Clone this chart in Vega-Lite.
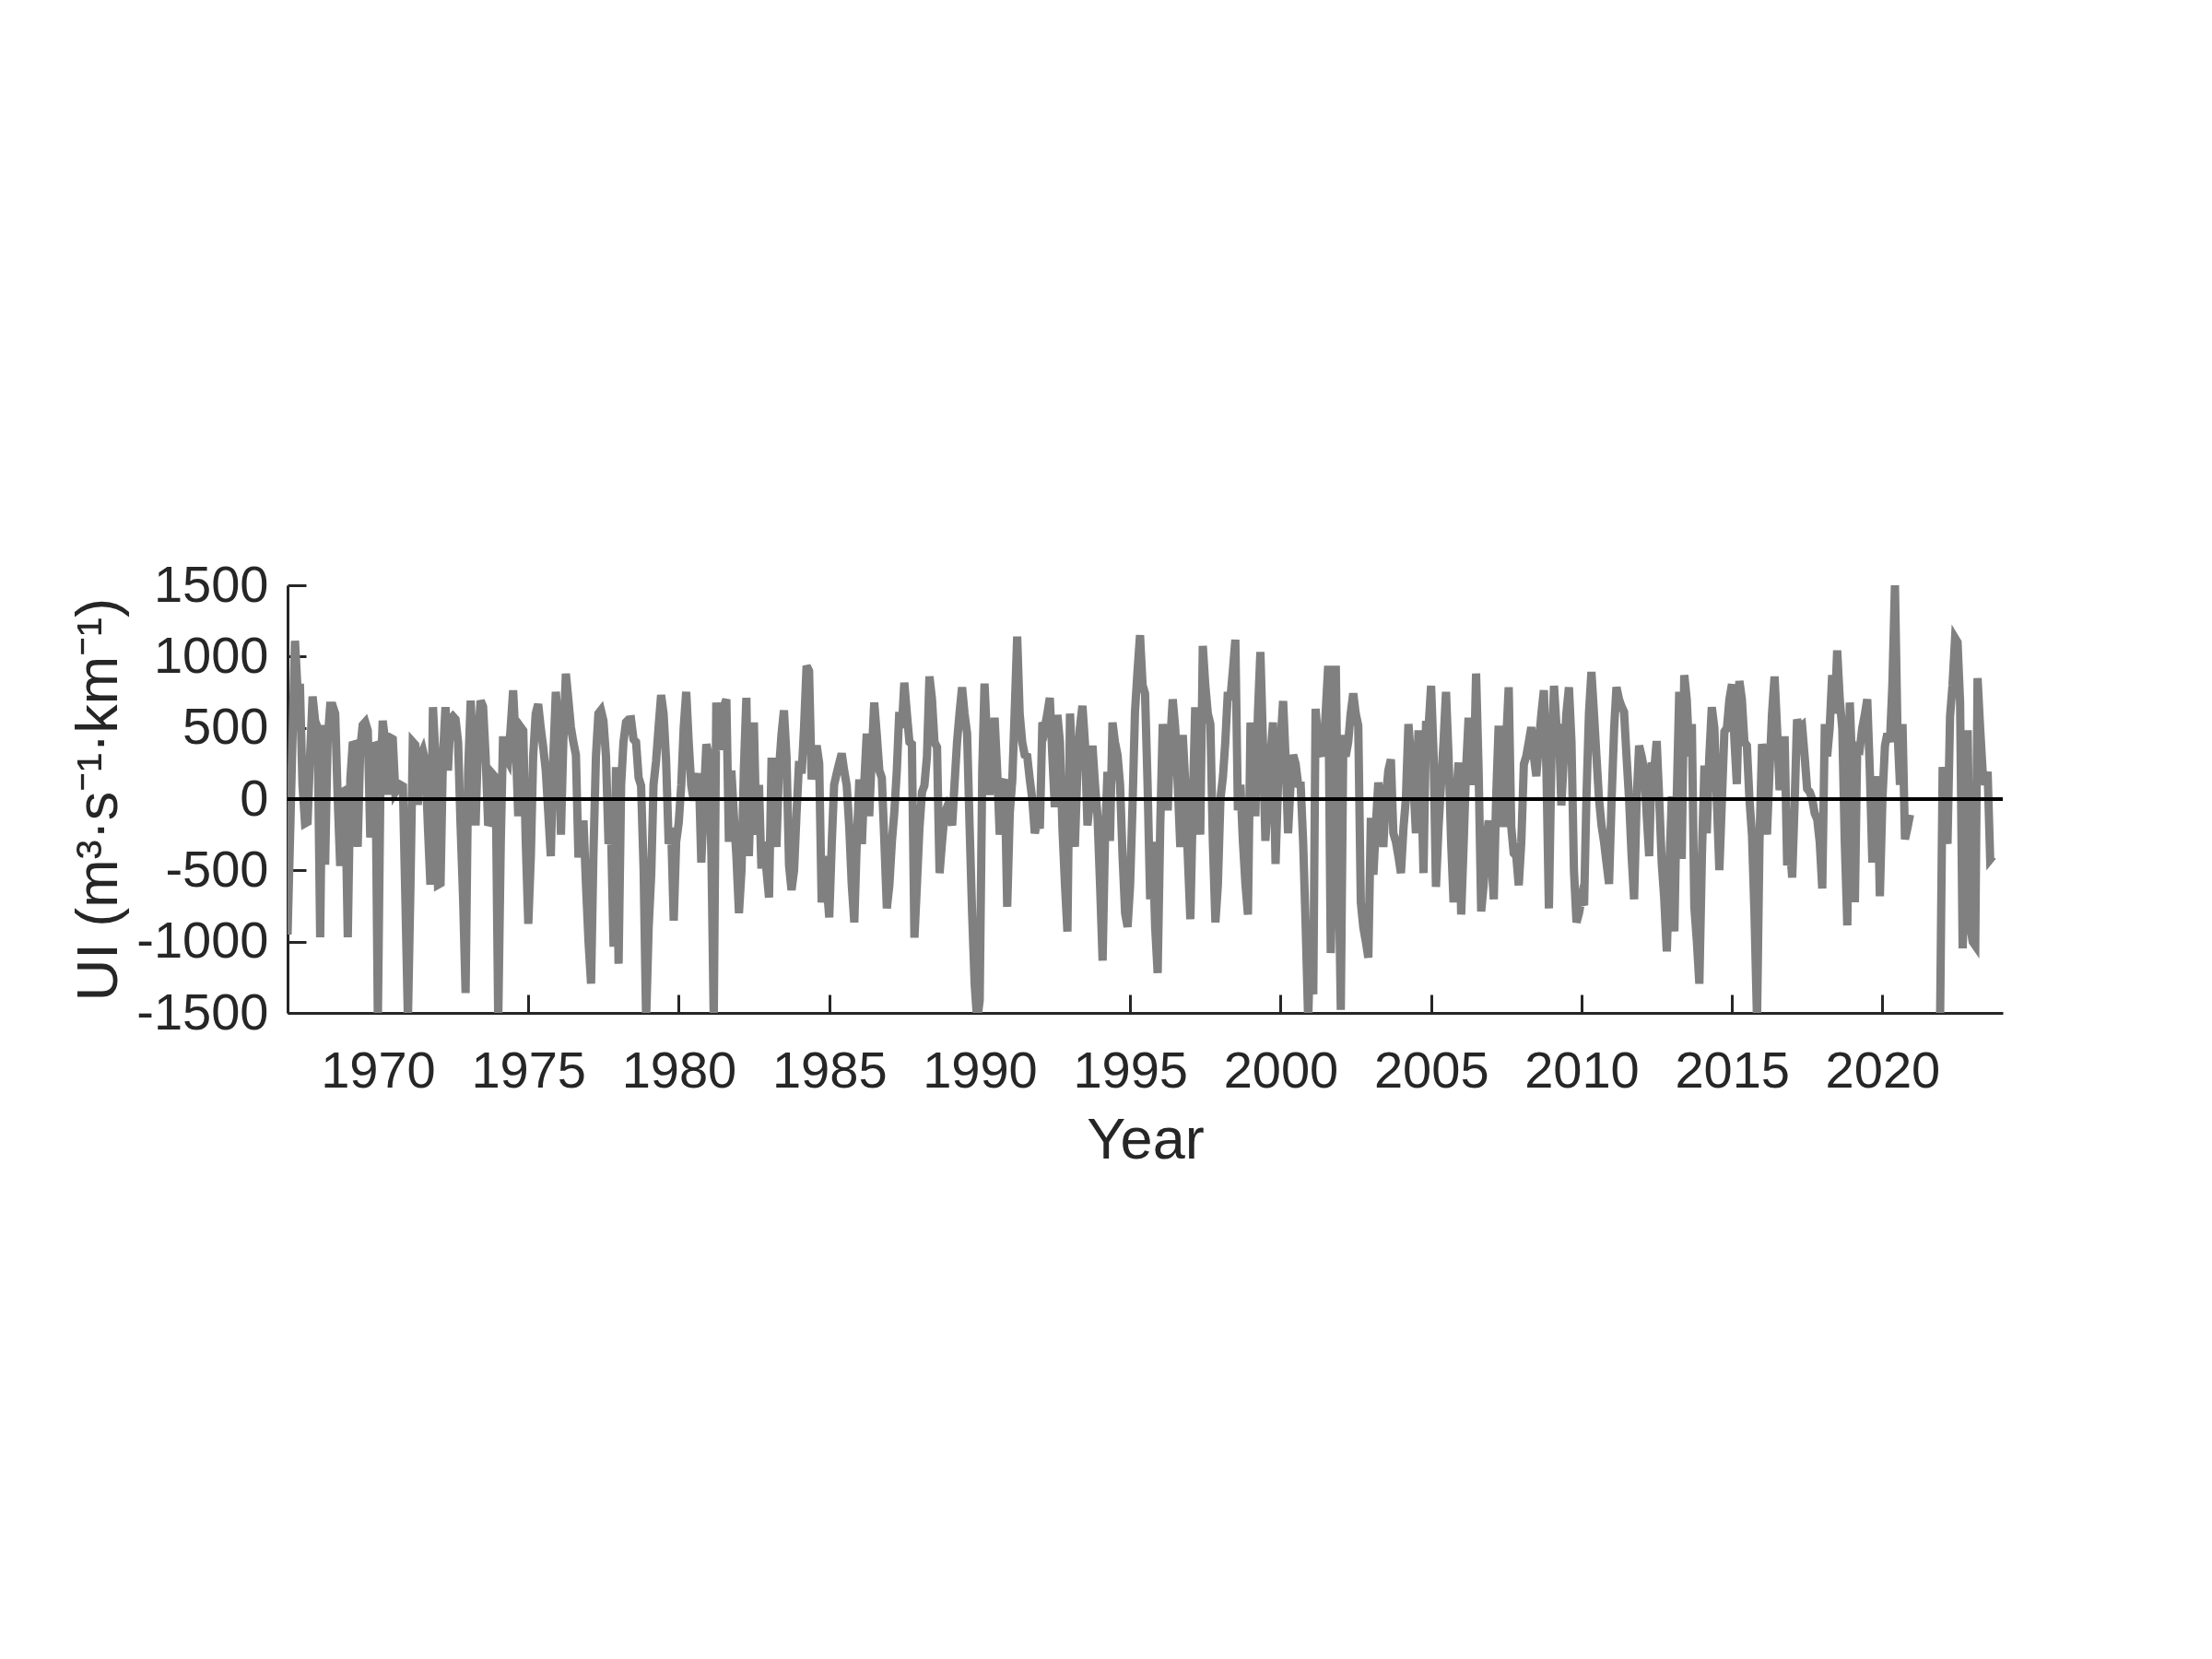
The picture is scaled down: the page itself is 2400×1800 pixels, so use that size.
{
"$schema": "https://vega.github.io/schema/vega-lite/v6.json",
"width": 1861, "height": 464,
"autosize": {"type": "none"},
"padding": {"left": 312, "top": 635, "right": 227, "bottom": 701},
"background": "white",
"config": {"view": {"stroke": null}, "font": "Liberation Sans"},
"data": {"values": [
{"d":"1967-01","v":-950},{"d":"1967-02","v":-250},{"d":"1967-03","v":400},{"d":"1967-04","v":1110},{"d":"1967-05","v":780},{"d":"1967-06","v":780},{"d":"1967-07","v":100},{"d":"1967-08","v":-170},{"d":"1967-09","v":-160},{"d":"1967-10","v":300},{"d":"1967-11","v":720},{"d":"1967-12","v":550},
{"d":"1968-01","v":500},{"d":"1968-02","v":-970},{"d":"1968-03","v":520},{"d":"1968-04","v":-460},{"d":"1968-05","v":400},{"d":"1968-06","v":655},{"d":"1968-07","v":655},{"d":"1968-08","v":600},{"d":"1968-09","v":0},{"d":"1968-10","v":-470},{"d":"1968-11","v":50},{"d":"1968-12","v":60},
{"d":"1969-01","v":-970},{"d":"1969-02","v":140},{"d":"1969-03","v":380},{"d":"1969-04","v":385},{"d":"1969-05","v":-336},{"d":"1969-06","v":350},{"d":"1969-07","v":520},{"d":"1969-08","v":540},{"d":"1969-09","v":480},{"d":"1969-10","v":-270},{"d":"1969-11","v":370},{"d":"1969-12","v":375},
{"d":"1970-01","v":-1550},{"d":"1970-02","v":100},{"d":"1970-03","v":550},{"d":"1970-04","v":400},{"d":"1970-05","v":30},{"d":"1970-06","v":430},{"d":"1970-07","v":420},{"d":"1970-08","v":50},{"d":"1970-09","v":80},{"d":"1970-10","v":100},{"d":"1970-11","v":90},{"d":"1970-12","v":-700},
{"d":"1971-01","v":-1550},{"d":"1971-02","v":-600},{"d":"1971-03","v":400},{"d":"1971-04","v":380},{"d":"1971-05","v":-40},{"d":"1971-06","v":300},{"d":"1971-07","v":340},{"d":"1971-08","v":260},{"d":"1971-09","v":-200},{"d":"1971-10","v":-600},{"d":"1971-11","v":645},{"d":"1971-12","v":300},
{"d":"1972-01","v":-600},{"d":"1972-02","v":-590},{"d":"1972-03","v":300},{"d":"1972-04","v":645},{"d":"1972-05","v":200},{"d":"1972-06","v":560},{"d":"1972-07","v":580},{"d":"1972-08","v":560},{"d":"1972-09","v":400},{"d":"1972-10","v":-185},{"d":"1972-11","v":-700},{"d":"1972-12","v":-1360},
{"d":"1973-01","v":200},{"d":"1973-02","v":690},{"d":"1973-03","v":300},{"d":"1973-04","v":-185},{"d":"1973-05","v":400},{"d":"1973-06","v":690},{"d":"1973-07","v":650},{"d":"1973-08","v":300},{"d":"1973-09","v":-185},{"d":"1973-10","v":-150},{"d":"1973-11","v":170},{"d":"1973-12","v":150},
{"d":"1974-01","v":-1550},{"d":"1974-02","v":-300},{"d":"1974-03","v":440},{"d":"1974-04","v":300},{"d":"1974-05","v":267},{"d":"1974-06","v":500},{"d":"1974-07","v":763},{"d":"1974-08","v":400},{"d":"1974-09","v":-120},{"d":"1974-10","v":505},{"d":"1974-11","v":480},{"d":"1974-12","v":-300},
{"d":"1975-01","v":-875},{"d":"1975-02","v":-400},{"d":"1975-03","v":300},{"d":"1975-04","v":600},{"d":"1975-05","v":666},{"d":"1975-06","v":500},{"d":"1975-07","v":364},{"d":"1975-08","v":200},{"d":"1975-09","v":-100},{"d":"1975-10","v":-400},{"d":"1975-11","v":300},{"d":"1975-12","v":752},
{"d":"1976-01","v":500},{"d":"1976-02","v":-250},{"d":"1976-03","v":400},{"d":"1976-04","v":880},{"d":"1976-05","v":700},{"d":"1976-06","v":505},{"d":"1976-07","v":400},{"d":"1976-08","v":310},{"d":"1976-09","v":-410},{"d":"1976-10","v":-200},{"d":"1976-11","v":-150},{"d":"1976-12","v":-600},
{"d":"1977-01","v":-1000},{"d":"1977-02","v":-1295},{"d":"1977-03","v":-400},{"d":"1977-04","v":300},{"d":"1977-05","v":600},{"d":"1977-06","v":623},{"d":"1977-07","v":550},{"d":"1977-08","v":300},{"d":"1977-09","v":-315},{"d":"1977-10","v":-200},{"d":"1977-11","v":-1035},{"d":"1977-12","v":224},
{"d":"1978-01","v":-1155},{"d":"1978-02","v":100},{"d":"1978-03","v":400},{"d":"1978-04","v":540},{"d":"1978-05","v":558},{"d":"1978-06","v":560},{"d":"1978-07","v":420},{"d":"1978-08","v":400},{"d":"1978-09","v":150},{"d":"1978-10","v":95},{"d":"1978-11","v":-500},{"d":"1978-12","v":-1550},
{"d":"1979-01","v":-900},{"d":"1979-02","v":-530},{"d":"1979-03","v":100},{"d":"1979-04","v":267},{"d":"1979-05","v":500},{"d":"1979-06","v":730},{"d":"1979-07","v":600},{"d":"1979-08","v":267},{"d":"1979-09","v":-315},{"d":"1979-10","v":-200},{"d":"1979-11","v":-853},{"d":"1979-12","v":-300},
{"d":"1980-01","v":-165},{"d":"1980-02","v":100},{"d":"1980-03","v":500},{"d":"1980-04","v":752},{"d":"1980-05","v":400},{"d":"1980-06","v":95},{"d":"1980-07","v":-10},{"d":"1980-08","v":100},{"d":"1980-09","v":180},{"d":"1980-10","v":-445},{"d":"1980-11","v":0},{"d":"1980-12","v":385},
{"d":"1981-01","v":300},{"d":"1981-02","v":-400},{"d":"1981-03","v":-1550},{"d":"1981-04","v":677},{"d":"1981-05","v":400},{"d":"1981-06","v":350},{"d":"1981-07","v":650},{"d":"1981-08","v":700},{"d":"1981-09","v":-300},{"d":"1981-10","v":200},{"d":"1981-11","v":-120},{"d":"1981-12","v":-400},
{"d":"1982-01","v":-800},{"d":"1982-02","v":-500},{"d":"1982-03","v":200},{"d":"1982-04","v":710},{"d":"1982-05","v":-400},{"d":"1982-06","v":200},{"d":"1982-07","v":537},{"d":"1982-08","v":-250},{"d":"1982-09","v":100},{"d":"1982-10","v":-487},{"d":"1982-11","v":-300},{"d":"1982-12","v":-500},
{"d":"1983-01","v":-690},{"d":"1983-02","v":290},{"d":"1983-03","v":100},{"d":"1983-04","v":-336},{"d":"1983-05","v":200},{"d":"1983-06","v":450},{"d":"1983-07","v":623},{"d":"1983-08","v":300},{"d":"1983-09","v":-465},{"d":"1983-10","v":-638},{"d":"1983-11","v":-500},{"d":"1983-12","v":-100},
{"d":"1984-01","v":267},{"d":"1984-02","v":180},{"d":"1984-03","v":500},{"d":"1984-04","v":935},{"d":"1984-05","v":900},{"d":"1984-06","v":138},{"d":"1984-07","v":300},{"d":"1984-08","v":375},{"d":"1984-09","v":250},{"d":"1984-10","v":-725},{"d":"1984-11","v":-400},{"d":"1984-12","v":-600},
{"d":"1985-01","v":-830},{"d":"1985-02","v":-300},{"d":"1985-03","v":100},{"d":"1985-04","v":180},{"d":"1985-05","v":250},{"d":"1985-06","v":320},{"d":"1985-07","v":200},{"d":"1985-08","v":95},{"d":"1985-09","v":-200},{"d":"1985-10","v":-600},{"d":"1985-11","v":-865},{"d":"1985-12","v":-300},
{"d":"1986-01","v":138},{"d":"1986-02","v":-315},{"d":"1986-03","v":100},{"d":"1986-04","v":460},{"d":"1986-05","v":-120},{"d":"1986-06","v":300},{"d":"1986-07","v":677},{"d":"1986-08","v":450},{"d":"1986-09","v":200},{"d":"1986-10","v":150},{"d":"1986-11","v":-300},{"d":"1986-12","v":-767},
{"d":"1987-01","v":-600},{"d":"1987-02","v":-293},{"d":"1987-03","v":-100},{"d":"1987-04","v":200},{"d":"1987-05","v":612},{"d":"1987-06","v":500},{"d":"1987-07","v":817},{"d":"1987-08","v":600},{"d":"1987-09","v":400},{"d":"1987-10","v":385},{"d":"1987-11","v":-972},{"d":"1987-12","v":-600},
{"d":"1988-01","v":-200},{"d":"1988-02","v":50},{"d":"1988-03","v":95},{"d":"1988-04","v":300},{"d":"1988-05","v":860},{"d":"1988-06","v":700},{"d":"1988-07","v":400},{"d":"1988-08","v":364},{"d":"1988-09","v":-519},{"d":"1988-10","v":-300},{"d":"1988-11","v":-100},{"d":"1988-12","v":-56},
{"d":"1989-01","v":-100},{"d":"1989-02","v":-185},{"d":"1989-03","v":100},{"d":"1989-04","v":400},{"d":"1989-05","v":600},{"d":"1989-06","v":785},{"d":"1989-07","v":600},{"d":"1989-08","v":460},{"d":"1989-09","v":-200},{"d":"1989-10","v":-800},{"d":"1989-11","v":-1300},{"d":"1989-12","v":-1550},
{"d":"1990-01","v":-1413},{"d":"1990-02","v":200},{"d":"1990-03","v":810},{"d":"1990-04","v":400},{"d":"1990-05","v":30},{"d":"1990-06","v":300},{"d":"1990-07","v":570},{"d":"1990-08","v":200},{"d":"1990-09","v":-250},{"d":"1990-10","v":100},{"d":"1990-11","v":138},{"d":"1990-12","v":-756},
{"d":"1991-01","v":-100},{"d":"1991-02","v":138},{"d":"1991-03","v":600},{"d":"1991-04","v":1140},{"d":"1991-05","v":600},{"d":"1991-06","v":400},{"d":"1991-07","v":310},{"d":"1991-08","v":300},{"d":"1991-09","v":138},{"d":"1991-10","v":0},{"d":"1991-11","v":-240},{"d":"1991-12","v":-150},
{"d":"1992-01","v":-207},{"d":"1992-02","v":537},{"d":"1992-03","v":500},{"d":"1992-04","v":600},{"d":"1992-05","v":710},{"d":"1992-06","v":300},{"d":"1992-07","v":-56},{"d":"1992-08","v":590},{"d":"1992-09","v":400},{"d":"1992-10","v":-200},{"d":"1992-11","v":-600},{"d":"1992-12","v":-929},
{"d":"1993-01","v":600},{"d":"1993-02","v":200},{"d":"1993-03","v":-336},{"d":"1993-04","v":200},{"d":"1993-05","v":500},{"d":"1993-06","v":655},{"d":"1993-07","v":400},{"d":"1993-08","v":-185},{"d":"1993-09","v":0},{"d":"1993-10","v":375},{"d":"1993-11","v":100},{"d":"1993-12","v":-120},
{"d":"1994-01","v":-600},{"d":"1994-02","v":-1133},{"d":"1994-03","v":-300},{"d":"1994-04","v":192},{"d":"1994-05","v":-293},{"d":"1994-06","v":537},{"d":"1994-07","v":400},{"d":"1994-08","v":310},{"d":"1994-09","v":100},{"d":"1994-10","v":-400},{"d":"1994-11","v":-800},{"d":"1994-12","v":-897},
{"d":"1995-01","v":-600},{"d":"1995-02","v":0},{"d":"1995-03","v":612},{"d":"1995-04","v":900},{"d":"1995-05","v":1150},{"d":"1995-06","v":800},{"d":"1995-07","v":741},{"d":"1995-08","v":100},{"d":"1995-09","v":-703},{"d":"1995-10","v":-300},{"d":"1995-11","v":-900},{"d":"1995-12","v":-1220},
{"d":"1996-01","v":-200},{"d":"1996-02","v":526},{"d":"1996-03","v":300},{"d":"1996-04","v":-80},{"d":"1996-05","v":400},{"d":"1996-06","v":700},{"d":"1996-07","v":500},{"d":"1996-08","v":100},{"d":"1996-09","v":-336},{"d":"1996-10","v":450},{"d":"1996-11","v":100},{"d":"1996-12","v":-400},
{"d":"1997-01","v":-843},{"d":"1997-02","v":0},{"d":"1997-03","v":645},{"d":"1997-04","v":300},{"d":"1997-05","v":-250},{"d":"1997-06","v":1075},{"d":"1997-07","v":800},{"d":"1997-08","v":600},{"d":"1997-09","v":526},{"d":"1997-10","v":-300},{"d":"1997-11","v":-865},{"d":"1997-12","v":-600},
{"d":"1998-01","v":0},{"d":"1998-02","v":160},{"d":"1998-03","v":400},{"d":"1998-04","v":752},{"d":"1998-05","v":700},{"d":"1998-06","v":900},{"d":"1998-07","v":1118},{"d":"1998-08","v":-78},{"d":"1998-09","v":100},{"d":"1998-10","v":-300},{"d":"1998-11","v":-600},{"d":"1998-12","v":-810},
{"d":"1999-01","v":537},{"d":"1999-02","v":300},{"d":"1999-03","v":-120},{"d":"1999-04","v":600},{"d":"1999-05","v":1032},{"d":"1999-06","v":400},{"d":"1999-07","v":-293},{"d":"1999-08","v":0},{"d":"1999-09","v":300},{"d":"1999-10","v":537},{"d":"1999-11","v":-455},{"d":"1999-12","v":100},
{"d":"2000-01","v":400},{"d":"2000-02","v":688},{"d":"2000-03","v":300},{"d":"2000-04","v":-240},{"d":"2000-05","v":100},{"d":"2000-06","v":310},{"d":"2000-07","v":250},{"d":"2000-08","v":105},{"d":"2000-09","v":100},{"d":"2000-10","v":-300},{"d":"2000-11","v":-900},{"d":"2000-12","v":-1550},
{"d":"2001-01","v":-900},{"d":"2001-02","v":-1370},{"d":"2001-03","v":633},{"d":"2001-04","v":400},{"d":"2001-05","v":350},{"d":"2001-06","v":300},{"d":"2001-07","v":600},{"d":"2001-08","v":935},{"d":"2001-09","v":-1080},{"d":"2001-10","v":-200},{"d":"2001-11","v":935},{"d":"2001-12","v":-300},
{"d":"2002-01","v":-1478},{"d":"2002-02","v":450},{"d":"2002-03","v":300},{"d":"2002-04","v":400},{"d":"2002-05","v":600},{"d":"2002-06","v":741},{"d":"2002-07","v":600},{"d":"2002-08","v":515},{"d":"2002-09","v":-724},{"d":"2002-10","v":-900},{"d":"2002-11","v":-1000},{"d":"2002-12","v":-1112},
{"d":"2003-01","v":-131},{"d":"2003-02","v":-530},{"d":"2003-03","v":-200},{"d":"2003-04","v":116},{"d":"2003-05","v":0},{"d":"2003-06","v":-336},{"d":"2003-07","v":0},{"d":"2003-08","v":200},{"d":"2003-09","v":278},{"d":"2003-10","v":-240},{"d":"2003-11","v":-300},{"d":"2003-12","v":-400},
{"d":"2004-01","v":-519},{"d":"2004-02","v":-200},{"d":"2004-03","v":0},{"d":"2004-04","v":526},{"d":"2004-05","v":300},{"d":"2004-06","v":100},{"d":"2004-07","v":-240},{"d":"2004-08","v":483},{"d":"2004-09","v":200},{"d":"2004-10","v":-519},{"d":"2004-11","v":547},{"d":"2004-12","v":500},
{"d":"2005-01","v":795},{"d":"2005-02","v":300},{"d":"2005-03","v":-616},{"d":"2005-04","v":-200},{"d":"2005-05","v":100},{"d":"2005-06","v":400},{"d":"2005-07","v":752},{"d":"2005-08","v":300},{"d":"2005-09","v":-300},{"d":"2005-10","v":-724},{"d":"2005-11","v":0},{"d":"2005-12","v":256},
{"d":"2006-01","v":-810},{"d":"2006-02","v":-300},{"d":"2006-03","v":200},{"d":"2006-04","v":570},{"d":"2006-05","v":300},{"d":"2006-06","v":100},{"d":"2006-07","v":881},{"d":"2006-08","v":200},{"d":"2006-09","v":-788},{"d":"2006-10","v":-600},{"d":"2006-11","v":-300},{"d":"2006-12","v":-150},
{"d":"2007-01","v":-400},{"d":"2007-02","v":-703},{"d":"2007-03","v":0},{"d":"2007-04","v":515},{"d":"2007-05","v":300},{"d":"2007-06","v":-196},{"d":"2007-07","v":400},{"d":"2007-08","v":785},{"d":"2007-09","v":-196},{"d":"2007-10","v":-380},{"d":"2007-11","v":-400},{"d":"2007-12","v":-605},
{"d":"2008-01","v":-300},{"d":"2008-02","v":245},{"d":"2008-03","v":300},{"d":"2008-04","v":400},{"d":"2008-05","v":505},{"d":"2008-06","v":300},{"d":"2008-07","v":160},{"d":"2008-08","v":400},{"d":"2008-09","v":600},{"d":"2008-10","v":763},{"d":"2008-11","v":200},{"d":"2008-12","v":-767},
{"d":"2009-01","v":300},{"d":"2009-02","v":795},{"d":"2009-03","v":526},{"d":"2009-04","v":500},{"d":"2009-05","v":-45},{"d":"2009-06","v":300},{"d":"2009-07","v":600},{"d":"2009-08","v":785},{"d":"2009-09","v":400},{"d":"2009-10","v":-500},{"d":"2009-11","v":-865},{"d":"2009-12","v":-800},
{"d":"2010-01","v":-700},{"d":"2010-02","v":-745},{"d":"2010-03","v":0},{"d":"2010-04","v":600},{"d":"2010-05","v":892},{"d":"2010-06","v":600},{"d":"2010-07","v":300},{"d":"2010-08","v":0},{"d":"2010-09","v":-185},{"d":"2010-10","v":-300},{"d":"2010-11","v":-450},{"d":"2010-12","v":-595},
{"d":"2011-01","v":0},{"d":"2011-02","v":500},{"d":"2011-03","v":785},{"d":"2011-04","v":700},{"d":"2011-05","v":650},{"d":"2011-06","v":612},{"d":"2011-07","v":300},{"d":"2011-08","v":0},{"d":"2011-09","v":-400},{"d":"2011-10","v":-703},{"d":"2011-11","v":0},{"d":"2011-12","v":375},
{"d":"2012-01","v":300},{"d":"2012-02","v":200},{"d":"2012-03","v":-100},{"d":"2012-04","v":-400},{"d":"2012-05","v":256},{"d":"2012-06","v":200},{"d":"2012-07","v":407},{"d":"2012-08","v":0},{"d":"2012-09","v":-455},{"d":"2012-10","v":-700},{"d":"2012-11","v":-1069},{"d":"2012-12","v":-500},
{"d":"2013-01","v":19},{"d":"2013-02","v":-929},{"d":"2013-03","v":0},{"d":"2013-04","v":752},{"d":"2013-05","v":-420},{"d":"2013-06","v":870},{"d":"2013-07","v":700},{"d":"2013-08","v":300},{"d":"2013-09","v":526},{"d":"2013-10","v":-756},{"d":"2013-11","v":-1000},{"d":"2013-12","v":-1295},
{"d":"2014-01","v":-400},{"d":"2014-02","v":235},{"d":"2014-03","v":-240},{"d":"2014-04","v":300},{"d":"2014-05","v":645},{"d":"2014-06","v":500},{"d":"2014-07","v":0},{"d":"2014-08","v":-498},{"d":"2014-09","v":0},{"d":"2014-10","v":472},{"d":"2014-11","v":500},{"d":"2014-12","v":700},
{"d":"2015-01","v":806},{"d":"2015-02","v":400},{"d":"2015-03","v":105},{"d":"2015-04","v":828},{"d":"2015-05","v":700},{"d":"2015-06","v":400},{"d":"2015-07","v":375},{"d":"2015-08","v":0},{"d":"2015-09","v":-250},{"d":"2015-10","v":-800},{"d":"2015-11","v":-1550},{"d":"2015-12","v":-300},
{"d":"2016-01","v":385},{"d":"2016-02","v":300},{"d":"2016-03","v":-250},{"d":"2016-04","v":200},{"d":"2016-05","v":600},{"d":"2016-06","v":860},{"d":"2016-07","v":500},{"d":"2016-08","v":62},{"d":"2016-09","v":300},{"d":"2016-10","v":440},{"d":"2016-11","v":-465},{"d":"2016-12","v":-300},
{"d":"2017-01","v":-550},{"d":"2017-02","v":0},{"d":"2017-03","v":558},{"d":"2017-04","v":500},{"d":"2017-05","v":515},{"d":"2017-06","v":300},{"d":"2017-07","v":73},{"d":"2017-08","v":50},{"d":"2017-09","v":0},{"d":"2017-10","v":-100},{"d":"2017-11","v":-142},{"d":"2017-12","v":-300},
{"d":"2018-01","v":-627},{"d":"2018-02","v":526},{"d":"2018-03","v":300},{"d":"2018-04","v":500},{"d":"2018-05","v":870},{"d":"2018-06","v":600},{"d":"2018-07","v":1043},{"d":"2018-08","v":700},{"d":"2018-09","v":493},{"d":"2018-10","v":-300},{"d":"2018-11","v":-886},{"d":"2018-12","v":677},
{"d":"2019-01","v":200},{"d":"2019-02","v":-724},{"d":"2019-03","v":364},{"d":"2019-04","v":353},{"d":"2019-05","v":500},{"d":"2019-06","v":590},{"d":"2019-07","v":700},{"d":"2019-08","v":200},{"d":"2019-09","v":-445},{"d":"2019-10","v":0},{"d":"2019-11","v":160},{"d":"2019-12","v":-681},
{"d":"2020-01","v":0},{"d":"2020-02","v":375},{"d":"2020-03","v":460},{"d":"2020-04","v":400},{"d":"2020-05","v":800},{"d":"2020-06","v":1500},{"d":"2020-07","v":500},{"d":"2020-08","v":100},{"d":"2020-09","v":526},{"d":"2020-10","v":-282},{"d":"2020-11","v":-200},{"d":"2020-12","v":-110},
{"d":"2021-01","v":null},{"d":"2021-02","v":null},{"d":"2021-03","v":null},{"d":"2021-04","v":null},{"d":"2021-05","v":null},{"d":"2021-06","v":null},{"d":"2021-07","v":null},{"d":"2021-08","v":null},{"d":"2021-09","v":null},{"d":"2021-10","v":null},{"d":"2021-11","v":null},{"d":"2021-12","v":-1550},
{"d":"2022-01","v":224},{"d":"2022-02","v":100},{"d":"2022-03","v":-315},{"d":"2022-04","v":580},{"d":"2022-05","v":800},{"d":"2022-06","v":1129},{"d":"2022-07","v":1100},{"d":"2022-08","v":677},{"d":"2022-09","v":-1047},{"d":"2022-10","v":-500},{"d":"2022-11","v":483},{"d":"2022-12","v":-886},
{"d":"2023-01","v":-1000},{"d":"2023-02","v":-1026},{"d":"2023-03","v":849},{"d":"2023-04","v":500},{"d":"2023-05","v":200},{"d":"2023-06","v":100},{"d":"2023-07","v":192},{"d":"2023-08","v":-422},{"d":"2023-09","v":-400}
]},
"layer": [
{"mark": {"type": "line", "color": "#808080", "strokeWidth": 9, "clip": true, "invalid": "break-paths-filter-domains"},
 "encoding": {
  "x": {"field": "d", "type": "temporal",
        "scale": {"type": "utc", "domain": [{"year": 1967, "month": 1, "date": 1, "utc": true}, {"year": 2024, "month": 1, "date": 1, "utc": true}], "nice": false},
        "axis": {"title": "Year", "format": "%Y", "grid": false,
                 "values": [{"year":1970,"utc":true},{"year":1975,"utc":true},{"year":1980,"utc":true},{"year":1985,"utc":true},{"year":1990,"utc":true},{"year":1995,"utc":true},{"year":2000,"utc":true},{"year":2005,"utc":true},{"year":2010,"utc":true},{"year":2015,"utc":true},{"year":2020,"utc":true}],
                 "labelFont": "Liberation Sans", "labelFontSize": 56, "labelColor": "#262626", "labelFlush": false, "labelOverlap": false, "labelPadding": 56,
                 "titleFont": "Liberation Sans", "titleFontSize": 63, "titleFontWeight": "normal", "titleColor": "#262626", "titlePadding": 16,
                 "domainColor": "#262626", "domainWidth": 3, "tickColor": "#262626", "tickWidth": 3, "tickSize": -20}},
  "y": {"field": "v", "type": "quantitative",
        "scale": {"domain": [-1500, 1500], "nice": false, "zero": false},
        "axis": {"title": "UI (m³·s⁻¹·km⁻¹)", "grid": false, "values": [-1500, -1000, -500, 0, 500, 1000, 1500], "labelExpr": "toString(datum.value)",
                 "labelFont": "Liberation Sans", "labelFontSize": 56, "labelColor": "#262626", "labelFlush": false, "labelOverlap": false, "labelPadding": 41,
                 "titleFont": "Liberation Sans", "titleFontSize": 63, "titleFontWeight": "normal", "titleColor": "#262626", "titlePadding": 8,
                 "domainColor": "#262626", "domainWidth": 3, "tickColor": "#262626", "tickWidth": 3, "tickSize": -20}}
 }},
{"mark": {"type": "rule", "color": "black", "strokeWidth": 3},
 "encoding": {"y": {"datum": 0}}}
]
}
